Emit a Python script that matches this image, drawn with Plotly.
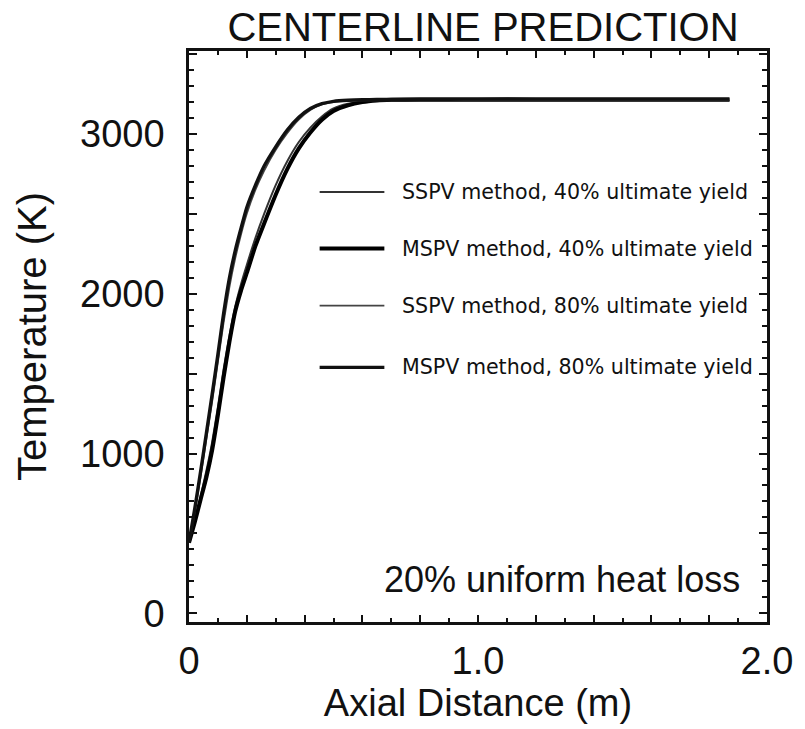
import plotly.graph_objects as go

# Axial positions (m) along the centerline
axial_m = [0.00, 0.02, 0.04, 0.06, 0.08, 0.10, 0.12, 0.14, 0.16, 0.18, 0.20,
           0.23, 0.26, 0.30, 0.34, 0.38, 0.42, 0.46, 0.50, 0.55, 0.60, 0.65,
           0.70, 0.80, 0.90, 1.00, 1.20, 1.40, 1.60, 1.87]

# Centerline temperature (K) for each prediction
sspv_40 = [441, 580, 730, 890, 1070, 1290, 1530, 1740, 1920, 2060, 2180,
           2350, 2500, 2680, 2830, 2950, 3040, 3110, 3160, 3190, 3203, 3207,
           3208, 3208, 3208, 3208, 3208, 3208, 3208, 3208]
mspv_40 = [441, 570, 710, 850, 1020, 1240, 1480, 1700, 1890, 2020, 2130,
           2300, 2440, 2620, 2780, 2910, 3010, 3090, 3145, 3180, 3200, 3210,
           3214, 3216, 3216, 3216, 3216, 3216, 3216, 3216]
sspv_80 = [441, 630, 850, 1085, 1320, 1570, 1820, 2040, 2220, 2370, 2500,
           2650, 2770, 2900, 3005, 3090, 3150, 3185, 3200, 3207, 3210, 3210,
           3210, 3210, 3210, 3210, 3210, 3210, 3210, 3210]
mspv_80 = [441, 655, 885, 1125, 1370, 1620, 1880, 2100, 2270, 2410, 2540,
           2680, 2800, 2920, 3025, 3105, 3160, 3190, 3205, 3212, 3215, 3216,
           3217, 3218, 3218, 3219, 3219, 3219, 3219, 3219]

series_names = ["SSPV method, 40% ultimate yield",
                "MSPV method, 40% ultimate yield",
                "SSPV method, 80% ultimate yield",
                "MSPV method, 80% ultimate yield"]
series_values = [sspv_40, mspv_40, sspv_80, mspv_80]
series_widths = [2.0, 4.0, 1.6, 3.4]
series_colors = ["#333333", "#000000", "#444444", "#111111"]

y_tick_vals = [0, 500, 1000, 1500, 2000, 2500, 3000, 3500]
y_tick_text = ["0", "", "1000", "", "2000", "", "3000", ""]
x_tick_vals = [0, 0.2, 0.4, 0.6, 0.8, 1.0, 1.2, 1.4, 1.6, 1.8, 2.0]
x_tick_text = ["0", "", "", "", "", "1.0", "", "", "", "", "2.0"]

FONT = "Liberation Sans, Arial, Helvetica, sans-serif"

fig = go.Figure()
for name, vals, w, c in zip(series_names, series_values, series_widths, series_colors):
    fig.add_trace(go.Scatter(x=axial_m, y=vals, mode="lines", name=name,
                             line=dict(color=c, width=w, shape="spline", smoothing=0.5),
                             showlegend=False))

# Hand-built key: sample line plus label for each series
legend_rows = [0.753, 0.654, 0.554, 0.446]
for name, w, c, yr in zip(series_names, series_widths, series_colors, legend_rows):
    fig.add_shape(type="line", xref="paper", yref="paper",
                  x0=0.226, x1=0.338, y0=yr, y1=yr,
                  line=dict(color=c, width=w))
    fig.add_annotation(xref="paper", yref="paper", x=0.365, y=yr,
                       xanchor="left", yanchor="middle", text=name,
                       showarrow=False,
                       font=dict(family="DejaVu Sans, sans-serif", size=20.6, color="#111"))

fig.add_annotation(xref="paper", yref="paper", x=0.956, y=0.075,
                   xanchor="right", yanchor="middle",
                   text="20% uniform heat loss", showarrow=False,
                   font=dict(family=FONT, size=36, color="#111"))

fig.update_layout(
    width=805, height=729,
    margin=dict(l=189, r=27, t=51, b=102),
    paper_bgcolor="white", plot_bgcolor="white",
    font=dict(family=FONT, color="#111"),
    title=dict(text="CENTERLINE PREDICTION", x=0.6, xanchor="center",
               y=0.963, yanchor="middle",
               font=dict(family=FONT, size=40, color="#111")),
)

fig.update_xaxes(range=[0, 2.0], tickmode="array", tickvals=x_tick_vals,
                 ticktext=x_tick_text, ticks="inside", ticklen=7, tickwidth=2,
                 tickcolor="#111", minor=dict(dtick=0.1, ticks="inside", ticklen=4,
                                              tickwidth=1.5, tickcolor="#111"),
                 showline=True, linewidth=2.5, linecolor="#111", mirror="ticks",
                 showgrid=False, zeroline=False,
                 tickfont=dict(size=38, family=FONT), ticklabelstandoff=4,
                 title=dict(text="Axial Distance (m)", standoff=8,
                            font=dict(size=38, family=FONT)))

fig.update_yaxes(range=[-55, 3520], tickmode="array", tickvals=y_tick_vals,
                 ticktext=y_tick_text, ticks="inside", ticklen=8, tickwidth=2,
                 tickcolor="#111", minor=dict(dtick=100, ticks="inside", ticklen=5,
                                              tickwidth=1.5, tickcolor="#111"),
                 showline=True, linewidth=2.5, linecolor="#111", mirror="ticks",
                 showgrid=False, zeroline=False,
                 tickfont=dict(size=38, family=FONT), ticklabelstandoff=14,
                 title=dict(text="Temperature (K)", standoff=22,
                            font=dict(size=40, family=FONT)))

fig.write_html("out.html")
